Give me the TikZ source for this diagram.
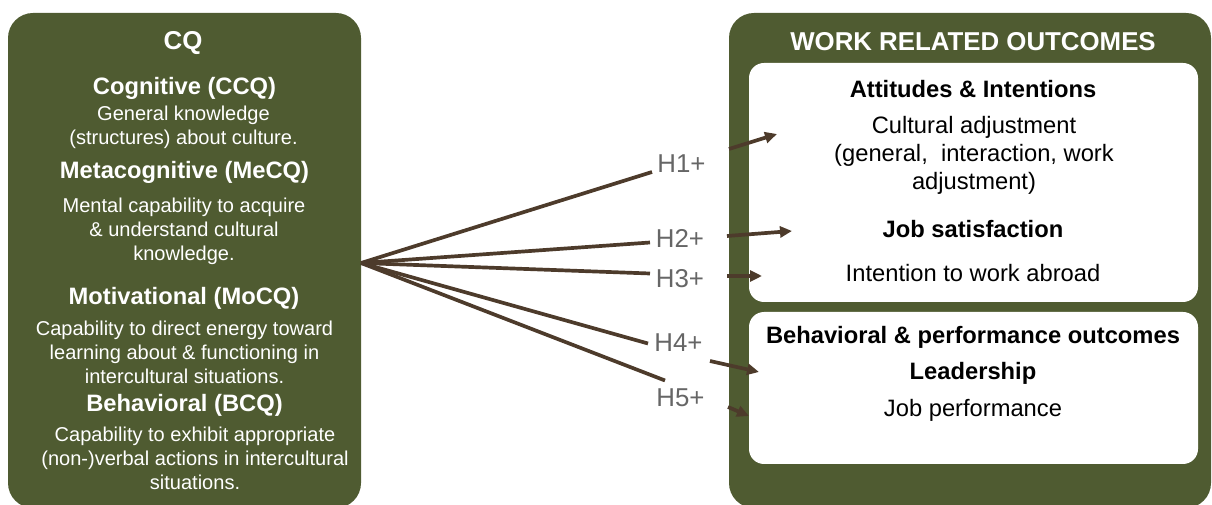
\documentclass[tikz,border=0pt]{standalone}
\usepackage{fontspec}
\setmainfont{Liberation Sans}
\usetikzlibrary{arrows.meta}
\definecolor{cqgreen}{RGB}{79,91,49}
\definecolor{linkbrown}{RGB}{77,59,43}
\definecolor{hgray}{RGB}{102,102,102}

\begin{document}
\begin{tikzpicture}[>={Triangle[length=0.24cm,width=0.22cm]}, line width=2.1pt,
    box/.style={fill=cqgreen, rounded corners=0.5cm},
    inbox/.style={fill=white, rounded corners=0.3cm},
    title/.style={text=white, font=\fontsize{14.7}{17}\selectfont\bfseries},
    head/.style={text=white, font=\fontsize{13.5}{16}\selectfont\bfseries},
    desc/.style={text=white, align=center, font=\fontsize{11.4}{13.6}\selectfont},
    rhead/.style={text=black, font=\fontsize{13.5}{16}\selectfont\bfseries},
    rdesc/.style={text=black, align=center, font=\fontsize{13.5}{15.9}\selectfont},
    hyp/.style={text=hgray, font=\fontsize{14.7}{17}\selectfont},
    link/.style={draw=linkbrown}]
    \useasboundingbox (0, 0) rectangle (24.24, 10.1);
    \clip (0, 0) rectangle (24.24, 10.1);

    % left box: CQ
    \path[box] (0.16, -0.06) rectangle (7.22, 9.84);
    \node[title] (cq) at (3.66, 9.24) {CQ};
    \node[head] (ccq) at (3.69, 8.34) {Cognitive (CCQ)};
    \node[desc] (ccqtxt) at (3.67, 7.55) {General knowledge\\(structures) about culture.};
    \node[head] (mecq) at (3.69, 6.66) {Metacognitive (MeCQ)};
    \node[desc] (mecqtxt) at (3.68, 5.48) {Mental capability to acquire\\\& understand cultural\\knowledge.};
    \node[head] (mocq) at (3.68, 4.14) {Motivational (MoCQ)};
    \node[desc] (mocqtxt) at (3.69, 3.06) {Capability to direct energy toward\\learning about \& functioning in\\intercultural situations.};
    \node[head] (bcq) at (3.69, 2.0) {Behavioral (BCQ)};
    \node[desc] (bcqtxt) at (3.9, 0.94) {Capability to exhibit appropriate\\(non-)verbal actions in intercultural\\situations.};

    % right box: outcomes
    \path[box] (14.58, -0.06) rectangle (24.22, 9.84);
    \path[inbox] (14.98, 8.84) rectangle (23.96, 4.06);
    \path[inbox] (14.98, 3.86) rectangle (23.96, 0.82);
    \node[title] (wro) at (19.46, 9.26) {WORK RELATED OUTCOMES};
    \node[rhead] (att) at (19.46, 8.32) {Attitudes \& Intentions};
    \node[rdesc] (adj) at (19.48, 7.0) {Cultural adjustment\\(general,\ \ interaction, work\\adjustment)};
    \node[rhead] (sat) at (19.46, 5.52) {Job satisfaction};
    \node[rdesc] (abroad) at (19.46, 4.64) {Intention to work abroad};
    \node[rhead] (beh) at (19.46, 3.36) {Behavioral \& performance outcomes};
    \node[rhead] (lead) at (19.46, 2.64) {Leadership};
    \node[rdesc] (perf) at (19.46, 1.9) {Job performance};

    % hypotheses
    \node[hyp] (h1) at (13.63, 6.82) {H1+};
    \node[hyp] (h2) at (13.6, 5.33) {H2+};
    \node[hyp] (h3) at (13.6, 4.52) {H3+};
    \node[hyp] (h4) at (13.57, 3.24) {H4+};
    \node[hyp] (h5) at (13.61, 2.15) {H5+};

    \coordinate (src) at (7.22, 4.84);
    \coordinate (e1) at (13.04, 6.66);
    \coordinate (e2) at (13.0, 5.25);
    \coordinate (e3) at (13.0, 4.63);
    \coordinate (e4) at (12.96, 3.23);
    \coordinate (e5) at (13.3, 2.49);
    \foreach \i in {1,...,5}
        \draw[link] (src) -- (e\i);

    % short arrows into the outcomes
    \coordinate (s1) at (14.58, 7.12);  \coordinate (t1) at (15.54, 7.42);
    \coordinate (s2) at (14.54, 5.38);  \coordinate (t2) at (15.84, 5.48);
    \coordinate (s3) at (14.54, 4.58);  \coordinate (t3) at (15.24, 4.58);
    \coordinate (s4) at (14.2, 2.88);   \coordinate (t4) at (15.18, 2.66);
    \coordinate (s5) at (14.56, 1.96);  \coordinate (t5) at (14.98, 1.78);
    \foreach \i in {1,...,5}
        \draw[link, ->] (s\i) -- (t\i);
\end{tikzpicture}
\end{document}
